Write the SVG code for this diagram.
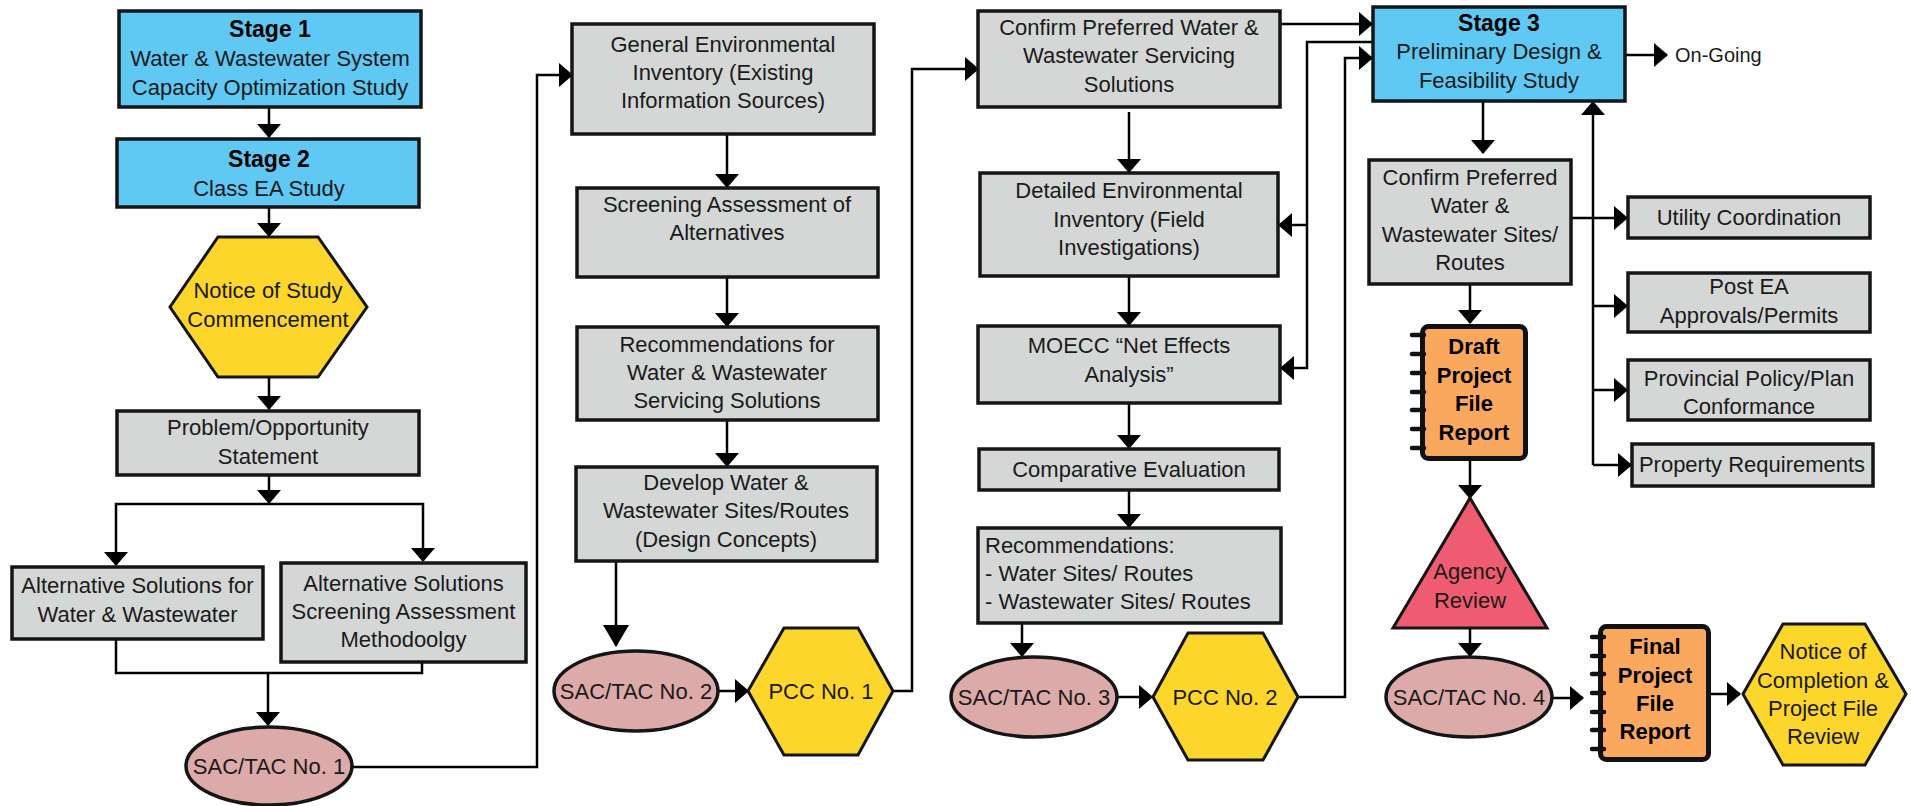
<svg xmlns="http://www.w3.org/2000/svg" width="1911" height="806" viewBox="0 0 1911 806">
<defs>
<marker id="ah" viewBox="0 0 14 24" refX="13" refY="12" markerWidth="14" markerHeight="24" markerUnits="userSpaceOnUse" orient="auto"><path d="M0,0 L14,12 L0,24 Z" fill="#000"/></marker>
<marker id="ahb" viewBox="0 0 22 26" refX="21" refY="13" markerWidth="22" markerHeight="26" markerUnits="userSpaceOnUse" orient="auto"><path d="M0,0 L22,13 L0,26 Z" fill="#000"/></marker>
<style>
.t{font-family:"Liberation Sans",Arial,sans-serif;font-size:22px;fill:#1a1a1a;text-anchor:middle}
.l{text-anchor:start}
.b{font-weight:bold;fill:#000}
.box{stroke:#151515;stroke-width:3.5}
.blue{fill:#5fc8f3}
.gray{fill:#d4d7d6}
.yel{fill:#fdd62b;stroke:#151515;stroke-width:3}
.pink{fill:#dcaaa9;stroke:#151515;stroke-width:3.5}
.nb{fill:#f9a85e;stroke:#111;stroke-width:5}
.ring{stroke:#111;stroke-width:4.5;stroke-linecap:round}
.c{fill:none;stroke:#000;stroke-width:2.5}
.a{marker-end:url(#ah)}
</style>
</defs>
<rect width="1911" height="806" fill="#fff"/>
<g id="connectors">
<path class="c a" d="M269,107 V137"/>
<path class="c a" d="M269,207 V236"/>
<path class="c a" d="M269,377 V409"/>
<path class="c a" d="M269,475 V503"/>
<path class="c a" d="M269,504 H116 V565"/>
<path class="c a" d="M269,504 H423 V561"/>
<path class="c" d="M116,639 V673 H422 V662"/>
<path class="c a" d="M268,673 V725"/>
<path class="c a" d="M352,767 H537 V75 H572"/>
<path class="c a" d="M727,134 V187"/>
<path class="c a" d="M727,277 V326"/>
<path class="c a" d="M727,420 V466"/>
<path class="c" d="M616,561 V646" marker-end="url(#ahb)"/>
<path class="c a" d="M718,691 H748"/>
<path class="c a" d="M893,691 H912 V69 H978"/>
<path class="c a" d="M1129,112 V172"/>
<path class="c a" d="M1129,276 V325"/>
<path class="c a" d="M1129,403 V448"/>
<path class="c a" d="M1129,490 V527"/>
<path class="c a" d="M1022,623 V656"/>
<path class="c a" d="M1117,697 H1152"/>
<path class="c a" d="M1298,697 H1345 V58 H1372"/>
<path class="c a" d="M1280,24 H1372"/>
<path class="c a" d="M1372,42 H1307 V368 H1281"/>
<path class="c a" d="M1307,225 H1279"/>
<path class="c a" d="M1625,55 H1667"/>
<path class="c a" d="M1483,101 V153"/>
<path class="c a" d="M1470,284 V323"/>
<path class="c a" d="M1571,218 H1627"/>
<path class="c a" d="M1593,465 V102"/>
<path class="c a" d="M1593,306 H1627"/>
<path class="c a" d="M1593,390 H1627"/>
<path class="c a" d="M1593,465 H1631"/>
<path class="c a" d="M1470,461 V498"/>
<path class="c a" d="M1470,628 V656"/>
<path class="c a" d="M1552,698 H1583"/>
<path class="c a" d="M1711,694 H1740"/>
</g>
<g id="stage1"><rect class="box blue" x="119" y="11" width="302" height="96"/>
<text class="t b" x="270" y="37" style="font-size:23px">Stage 1</text>
<text class="t" x="270" y="66">Water &amp; Wastewater System</text>
<text class="t" x="270" y="95">Capacity Optimization Study</text></g>
<g id="stage2"><rect class="box blue" x="117" y="139" width="302" height="68"/>
<text class="t b" x="269" y="167" style="font-size:23px">Stage 2</text>
<text class="t" x="269" y="196">Class EA Study</text></g>
<g id="notice-study"><polygon class="yel" points="218,237 318,237 367,307 318,377 218,377 170,307"/>
<text class="t" x="268" y="298">Notice of Study</text>
<text class="t" x="268" y="327">Commencement</text></g>
<g id="problem"><rect class="box gray" x="117" y="411" width="302" height="64"/>
<text class="t" x="268" y="435">Problem/Opportunity</text>
<text class="t" x="268" y="464">Statement</text></g>
<g id="alt-solutions"><rect class="box gray" x="12" y="567" width="251" height="72"/>
<text class="t" x="137.5" y="593">Alternative Solutions for</text>
<text class="t" x="137.5" y="622">Water &amp; Wastewater</text></g>
<g id="alt-screening"><rect class="box gray" x="281" y="563" width="245" height="99"/>
<text class="t" x="403.5" y="591">Alternative Solutions</text>
<text class="t" x="403.5" y="619">Screening Assessment</text>
<text class="t" x="403.5" y="647">Methodoolgy</text></g>
<g id="sac1"><ellipse class="pink" cx="269" cy="766" rx="83" ry="39"/>
<text class="t" x="269" y="774">SAC/TAC No. 1</text></g>
<g id="gen-env"><rect class="box gray" x="572" y="24" width="302" height="110"/>
<text class="t" x="723" y="52">General Environmental</text>
<text class="t" x="723" y="80">Inventory (Existing</text>
<text class="t" x="723" y="108">Information Sources)</text></g>
<g id="screening"><rect class="box gray" x="577" y="188" width="301" height="89"/>
<text class="t" x="727" y="212">Screening Assessment of</text>
<text class="t" x="727" y="240">Alternatives</text></g>
<g id="recs-ws"><rect class="box gray" x="577" y="327" width="301" height="93"/>
<text class="t" x="727" y="352">Recommendations for</text>
<text class="t" x="727" y="380">Water &amp; Wastewater</text>
<text class="t" x="727" y="408">Servicing Solutions</text></g>
<g id="develop"><rect class="box gray" x="576" y="467" width="301" height="94"/>
<text class="t" x="726" y="490">Develop Water &amp;</text>
<text class="t" x="726" y="518">Wastewater Sites/Routes</text>
<text class="t" x="726" y="547">(Design Concepts)</text></g>
<g id="sac2"><ellipse class="pink" cx="636" cy="691" rx="82" ry="40"/>
<text class="t" x="636" y="699">SAC/TAC No. 2</text></g>
<g id="pcc1"><polygon class="yel" points="748,691 784,628 858,628 893,691 858,755 784,755"/>
<text class="t" x="821" y="699">PCC No. 1</text></g>
<g id="confirm-ws"><rect class="box gray" x="978" y="11" width="302" height="96"/>
<text class="t" x="1129" y="35">Confirm Preferred Water &amp;</text>
<text class="t" x="1129" y="63">Wastewater Servicing</text>
<text class="t" x="1129" y="92">Solutions</text></g>
<g id="detailed-env"><rect class="box gray" x="980" y="173" width="298" height="103"/>
<text class="t" x="1129" y="198">Detailed Environmental</text>
<text class="t" x="1129" y="227">Inventory (Field</text>
<text class="t" x="1129" y="255">Investigations)</text></g>
<g id="moecc"><rect class="box gray" x="978" y="326" width="302" height="77"/>
<text class="t" x="1129" y="353">MOECC “Net Effects</text>
<text class="t" x="1129" y="382">Analysis”</text></g>
<g id="comparative"><rect class="box gray" x="979" y="449" width="300" height="41"/>
<text class="t" x="1129" y="477">Comparative Evaluation</text></g>
<g id="recs-sites"><rect class="box gray" x="978" y="528" width="303" height="95"/>
<text class="t l" x="985" y="553">Recommendations:</text>
<text class="t l" x="985" y="581">- Water Sites/ Routes</text>
<text class="t l" x="985" y="609">- Wastewater Sites/ Routes</text></g>
<g id="sac3"><ellipse class="pink" cx="1034" cy="697" rx="83" ry="40"/>
<text class="t" x="1034" y="705">SAC/TAC No. 3</text></g>
<g id="pcc2"><polygon class="yel" points="1153,697 1188,633 1263,633 1298,697 1263,760 1188,760"/>
<text class="t" x="1225" y="705">PCC No. 2</text></g>
<g id="stage3"><rect class="box blue" x="1373" y="7" width="252" height="94"/>
<text class="t b" x="1499" y="31" style="font-size:23px">Stage 3</text>
<text class="t" x="1499" y="59">Preliminary Design &amp;</text>
<text class="t" x="1499" y="88">Feasibility Study</text></g>
<g id="ongoing"><text class="t l" x="1675" y="62" style="font-size:20px">On-Going</text></g>
<g id="confirm-sites"><rect class="box gray" x="1369" y="160" width="202" height="124"/>
<text class="t" x="1470" y="185">Confirm Preferred</text>
<text class="t" x="1470" y="213">Water &amp;</text>
<text class="t" x="1470" y="242">Wastewater Sites/</text>
<text class="t" x="1470" y="270">Routes</text></g>
<g id="utility"><rect class="box gray" x="1628" y="197" width="242" height="41"/>
<text class="t" x="1749" y="225">Utility Coordination</text></g>
<g id="post-ea"><rect class="box gray" x="1628" y="273" width="242" height="59"/>
<text class="t" x="1749" y="294">Post EA</text>
<text class="t" x="1749" y="323">Approvals/Permits</text></g>
<g id="provincial"><rect class="box gray" x="1628" y="360" width="242" height="60"/>
<text class="t" x="1749" y="386">Provincial Policy/Plan</text>
<text class="t" x="1749" y="414">Conformance</text></g>
<g id="property"><rect class="box gray" x="1632" y="444" width="241" height="42"/>
<text class="t" x="1752" y="472">Property Requirements</text></g>
<g id="draft-report"><rect class="nb" x="1422.5" y="326.5" width="103" height="132" rx="6"/>
<g class="ring"><line x1="1412" y1="335" x2="1424" y2="335"/><line x1="1412" y1="354" x2="1424" y2="354"/><line x1="1412" y1="373" x2="1424" y2="373"/><line x1="1412" y1="392" x2="1424" y2="392"/><line x1="1412" y1="410" x2="1424" y2="410"/><line x1="1412" y1="429" x2="1424" y2="429"/><line x1="1412" y1="448" x2="1424" y2="448"/></g>
<text class="t b" x="1474" y="354">Draft</text>
<text class="t b" x="1474" y="383">Project</text>
<text class="t b" x="1474" y="411">File</text>
<text class="t b" x="1474" y="440">Report</text></g>
<g id="agency-review"><polygon points="1470,498 1547,628 1393,628" fill="#ef5c71" stroke="#151515" stroke-width="3"/>
<text class="t" x="1470" y="579">Agency</text>
<text class="t" x="1470" y="608">Review</text></g>
<g id="sac4"><ellipse class="pink" cx="1469" cy="697" rx="83" ry="40"/>
<text class="t" x="1469" y="705">SAC/TAC No. 4</text></g>
<g id="final-report"><rect class="nb" x="1600.5" y="626.5" width="108" height="133" rx="6"/>
<g class="ring"><line x1="1592" y1="637" x2="1604" y2="637"/><line x1="1592" y1="656" x2="1604" y2="656"/><line x1="1592" y1="674" x2="1604" y2="674"/><line x1="1592" y1="693" x2="1604" y2="693"/><line x1="1592" y1="712" x2="1604" y2="712"/><line x1="1592" y1="730" x2="1604" y2="730"/><line x1="1592" y1="749" x2="1604" y2="749"/></g>
<text class="t b" x="1655" y="654">Final</text>
<text class="t b" x="1655" y="683">Project</text>
<text class="t b" x="1655" y="711">File</text>
<text class="t b" x="1655" y="739">Report</text></g>
<g id="notice-completion"><polygon class="yel" points="1743,694 1783,624 1865,624 1906,694 1865,765 1783,765"/>
<text class="t" x="1823" y="659">Notice of</text>
<text class="t" x="1823" y="688">Completion &amp;</text>
<text class="t" x="1823" y="716">Project File</text>
<text class="t" x="1823" y="744">Review</text></g>
</svg>
